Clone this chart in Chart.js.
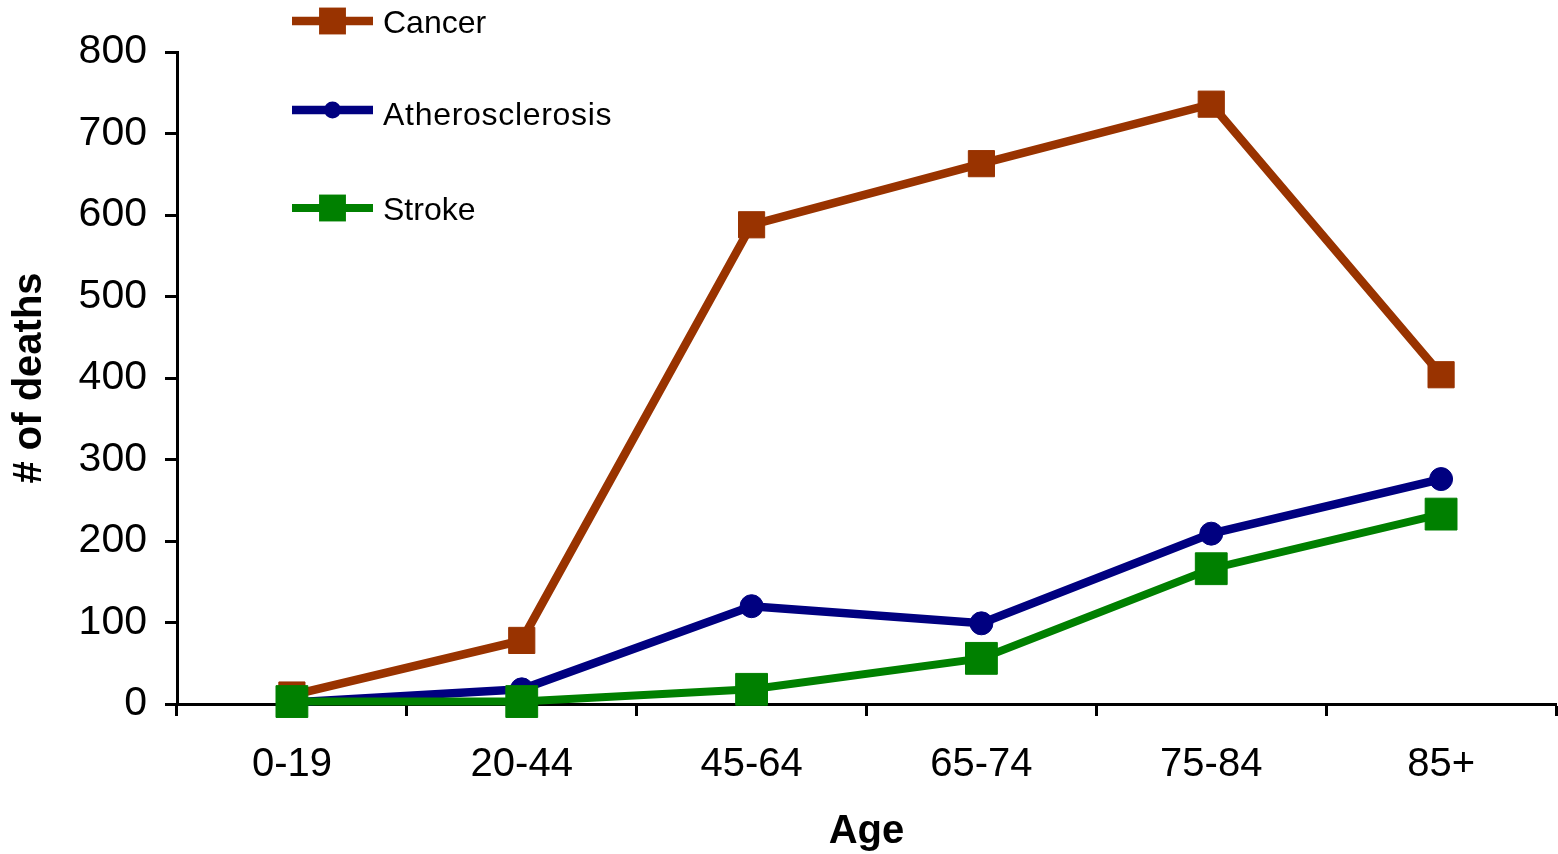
<!DOCTYPE html>
<html>
<head>
<meta charset="utf-8">
<script src="https://cdn.jsdelivr.net/npm/chart.js@4.4.1/dist/chart.umd.min.js"></script>
<style>
  html, body { margin: 0; padding: 0; background: #fff; }
  #wrap { width: 1558px; height: 854px; }
</style>
</head>
<body>
<div id="wrap"><canvas id="c" width="1558" height="854"></canvas></div>
<script>
// Deaths by age group
const ageGroups = ['0-19', '20-44', '45-64', '65-74', '75-84', '85+'];
const cancerDeaths = [11, 78, 588, 663, 736, 404];
const atheroDeaths = [2, 18, 120, 99, 209, 276];
const strokeDeaths = [3, 3, 18, 56, 166, 233];
const seriesNames = ['Cancer', 'Atherosclerosis', 'Stroke'];
const yMin = 0, yMax = 800, yStep = 100;

const FONT = '"Liberation Sans", Arial, Helvetica, sans-serif';

// Stacked legend drawn in the upper-left of the plot
const stackedLegend = {
  id: 'stackedLegend',
  afterDraw(chart, args, opts) {
    const ctx = chart.ctx;
    chart.data.datasets.forEach((ds, i) => {
      const y = opts.rows[i];
      ctx.save();
      ctx.strokeStyle = ds.borderColor;
      ctx.lineWidth = ds.borderWidth;
      ctx.beginPath();
      ctx.moveTo(opts.x, y);
      ctx.lineTo(opts.x + opts.lineLen, y);
      ctx.stroke();
      ctx.fillStyle = ds.backgroundColor;
      Chart.helpers.drawPoint(ctx, {
        pointStyle: ds.pointStyle,
        radius: ds.legendRadius,
        borderWidth: 0,
        rotation: 0
      }, opts.x + opts.lineLen / 2, y);
      ctx.fillStyle = '#000';
      ctx.font = opts.fontSize + 'px ' + FONT;
      ctx.textAlign = 'left';
      ctx.textBaseline = 'middle';
      if ('letterSpacing' in ctx) ctx.letterSpacing = opts.spacing[i] + 'px';
      ctx.fillText(ds.label, opts.textX, y + opts.textDy[i]);
      ctx.restore();
    });
  }
};

new Chart(document.getElementById('c'), {
  type: 'line',
  data: {
    labels: ageGroups,
    datasets: [
      {
        label: seriesNames[0], data: cancerDeaths,
        borderColor: '#993300', backgroundColor: '#993300',
        borderWidth: 8.5, pointStyle: 'rect', pointRadius: 18.5,
        pointBorderWidth: 1, pointHoverRadius: 18.5,
        legendRadius: 19, order: 2, clip: false, tension: 0
      },
      {
        label: seriesNames[1], data: atheroDeaths,
        borderColor: '#000080', backgroundColor: '#000080',
        borderWidth: 8.5, pointStyle: 'circle', pointRadius: 11.5,
        pointBorderWidth: 1, pointHoverRadius: 11.5,
        legendRadius: 8.5, order: 1, clip: false, tension: 0
      },
      {
        label: seriesNames[2], data: strokeDeaths,
        borderColor: '#008000', backgroundColor: '#008000',
        borderWidth: 8, pointStyle: 'rect', pointRadius: 22.5,
        pointBorderWidth: 1, pointHoverRadius: 22.5,
        legendRadius: 19, order: 0, clip: false, tension: 0
      }
    ]
  },
  options: {
    responsive: false,
    animation: false,
    devicePixelRatio: 1,
    layout: { autoPadding: false, padding: { top: 52, right: 2, left: 0, bottom: 0 } },
    plugins: {
      legend: { display: false },
      tooltip: { enabled: false },
      stackedLegend: {
        x: 292, lineLen: 81, textX: 383, fontSize: 32,
        rows: [21, 110, 208], textDy: [3, 6, 3], spacing: [0, 0.7, 0]
      }
    },
    scales: {
      x: {
        type: 'category',
        offset: true,
        grid: {
          offset: true, drawOnChartArea: false, drawTicks: true,
          tickLength: 12, tickWidth: 3, tickColor: '#000'
        },
        border: { display: true, color: '#000', width: 3 },
        ticks: { color: '#000', font: { family: FONT, size: 40 }, padding: 25, maxRotation: 0 },
        title: {
          display: true, text: 'Age', color: '#000',
          font: { family: FONT, size: 40, weight: 'bold' },
          padding: { top: 0, bottom: -2 }
        },
        afterFit(scale) { scale.height = 150; }
      },
      y: {
        min: yMin, max: yMax,
        grid: {
          drawOnChartArea: false, drawTicks: true,
          tickLength: 12, tickWidth: 3, tickColor: '#000'
        },
        border: { display: true, color: '#000', width: 3 },
        ticks: { stepSize: yStep, color: '#000', font: { family: FONT, size: 41 }, padding: 18 },
        title: {
          display: true, text: '# of deaths', color: '#000',
          font: { family: FONT, size: 40, weight: 'bold' },
          padding: { top: 6, bottom: 0 }
        },
        afterFit(scale) { scale.width = 177; }
      }
    }
  },
  plugins: [stackedLegend]
});
</script>
</body>
</html>
